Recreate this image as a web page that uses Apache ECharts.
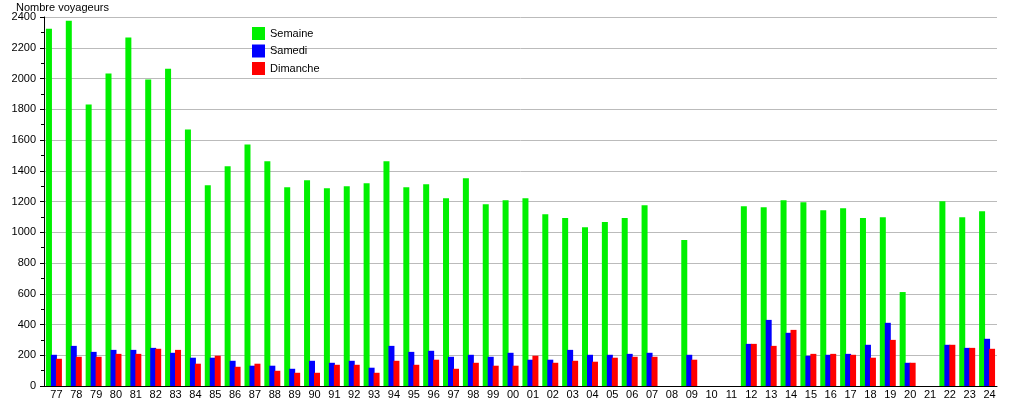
<!DOCTYPE html>
<html>
<head>
<meta charset="utf-8">
<script src="https://cdn.jsdelivr.net/npm/echarts@6/dist/echarts.min.js"></script>
<style>html,body{margin:0;padding:0;background:#fff}#c{width:1015px;height:400px}</style>
</head>
<body>
<div id="c"></div>
<script>
const years = ['77','78','79','80','81','82','83','84','85','86','87','88','89','90','91','92','93','94','95','96','97','98','99','00','01','02','03','04','05','06','07','08','09','10','11','12','13','14','15','16','17','18','19','20','21','22','23','24'];
const semaine = [2324,2376,1831,2032,2266,1993,2064,1669,1306,1429,1571,1462,1293,1338,1286,1299,1319,1462,1293,1312,1221,1351,1182,1208,1221,1117,1092,1033,1066,1092,1176,null,949,null,null,1169,1163,1208,1195,1143,1156,1092,1098,611,null,1201,1098,1137];
const samedi = [203,261,222,235,235,248,216,184,184,164,132,132,112,164,151,164,119,261,222,229,190,203,190,216,171,171,235,203,203,209,216,null,203,null,null,274,430,346,197,203,209,268,411,151,null,268,248,307];
const dimanche = [177,190,190,209,209,242,235,145,197,125,145,99,86,86,138,138,86,164,138,171,112,151,132,132,197,151,164,158,184,190,190,null,171,null,null,274,261,365,209,209,203,184,300,151,null,268,248,242];
const yTicks = [0,200,400,600,800,1000,1200,1400,1600,1800,2000,2200,2400];

const chart = echarts.init(document.getElementById('c'));
const font = 'Liberation Sans, Arial, sans-serif';
const barCommon = {type:'bar', barWidth:6, barGap:'-17%', barCategoryGap:'20%'};
chart.setOption({
  animation:false,
  textStyle:{fontFamily:font},
  title:{text:'Nombre voyageurs', left:11, top:-3, textStyle:{fontSize:11, fontWeight:'normal', color:'#000', fontFamily:font}},
  legend:{orient:'vertical', left:247, top:22, itemWidth:13, itemHeight:13, itemGap:4.5, icon:'rect',
    textStyle:{fontSize:11, color:'#000', fontFamily:font},
    data:['Semaine','Samedi','Dimanche']},
  grid:{left:44, right:18, top:17, bottom:13, containLabel:false},
  xAxis:{type:'category', data:years,
    axisLine:{lineStyle:{color:'#000', width:1}},
    axisTick:{show:false},
    axisLabel:{color:'#000', fontSize:11, margin:3, interval:0, padding:[0,0,0,5], fontFamily:font}},
  yAxis:{type:'value', min:yTicks[0], max:yTicks[yTicks.length-1], interval:200,
    axisLine:{show:true, lineStyle:{color:'#000'}},
    axisTick:{show:true, length:4, lineStyle:{color:'#000'}},
    minorTick:{show:true, splitNumber:2, length:3, lineStyle:{color:'#000'}},
    splitLine:{lineStyle:{color:'#bbbbbb', width:1}},
    axisLabel:{color:'#000', fontSize:11, margin:8, fontFamily:font, formatter:function(v){return String(v);}}},
  series:[
    Object.assign({name:'Semaine', data:semaine, itemStyle:{color:'#00f000'}}, barCommon),
    Object.assign({name:'Samedi', data:samedi, itemStyle:{color:'#0000ff'}}, barCommon),
    Object.assign({name:'Dimanche', data:dimanche, itemStyle:{color:'#ff0000'}}, barCommon)
  ]
});
</script>
</body>
</html>
